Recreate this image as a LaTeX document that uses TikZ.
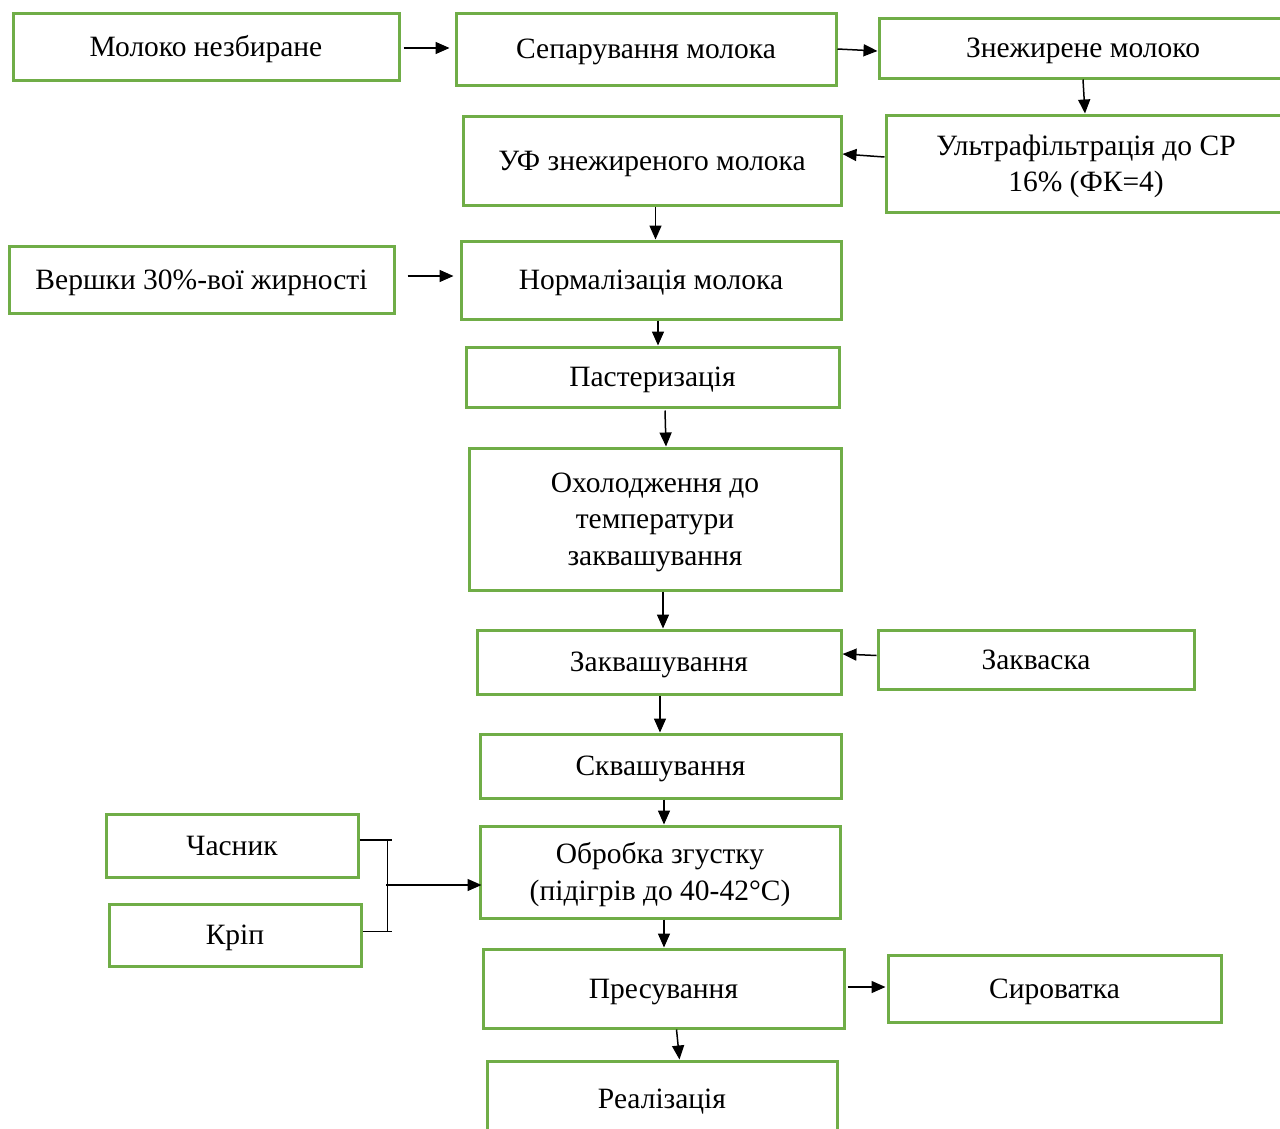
\documentclass[tikz,border=0pt]{standalone}
\usepackage{fontspec}
\setmainfont{Liberation Serif}
\usetikzlibrary{arrows.meta,calc}
\definecolor{boxgreen}{HTML}{70AD47}
\newcommand\boxstrut{\vrule width 0pt height 26pt depth 6.4pt}
\begin{document}
\begin{tikzpicture}[x=1pt,y=-1pt,
  stepbox/.style={draw=boxgreen, line width=3pt, fill=white, inner sep=0pt, align=center,
    font=\fontsize{29.5}{36.5}\selectfont,
    execute at begin node=\boxstrut, execute at end node=\boxstrut},
  arr/.style={line width=1.5pt, -{Triangle[length=14pt,width=12pt]}},
  ln/.style={line width=1.5pt}]
\useasboundingbox (0,0) rectangle (1280,1128);
\clip (0,0) rectangle (1280,1128);
\fill[white] (0,0) rectangle (1280,1128);

\node[stepbox, minimum width=386pt, minimum height=67pt] (n1) at (206,46.5) {Молоко незбиране};
\node[stepbox, minimum width=380pt, minimum height=72pt] (n2) at (646,49) {Сепарування молока};
\node[stepbox, minimum width=408pt, minimum height=60pt] (n3) at (1083,48) {Знежирене молоко};
\node[stepbox, minimum width=400pt, minimum height=97pt] (n5) at (1086,163.5) {\boxstrut Ультрафільтрація до СР\\16\% (ФК=4)\boxstrut};
\node[stepbox, minimum width=378pt, minimum height=89pt] (n4) at (652,160.5) {УФ знежиреного молока};
\node[stepbox, minimum width=385pt, minimum height=67pt] (n6) at (201.5,279.5) {Вершки 30\%-вої жирності};
\node[stepbox, minimum width=380pt, minimum height=78pt] (n7) at (651,280) {Нормалізація молока};
\node[stepbox, minimum width=373pt, minimum height=60pt] (n8) at (652.5,377) {Пастеризація};
\node[stepbox, minimum width=372pt, minimum height=142pt] (n9) at (655,519) {\boxstrut Охолодження до\\температури\\заквашування\boxstrut};
\node[stepbox, minimum width=364pt, minimum height=64pt] (n10) at (659,662) {Заквашування};
\node[stepbox, minimum width=316pt, minimum height=59pt] (n11) at (1036,659.5) {Закваска};
\node[stepbox, minimum width=361pt, minimum height=64pt] (n12) at (660.5,766) {Сквашування};
\node[stepbox, minimum width=360pt, minimum height=92pt] (n13) at (660,872) {\boxstrut Обробка згустку\\(підігрів до 40-42°C)\boxstrut};
\node[stepbox, minimum width=252pt, minimum height=63pt] (n14) at (232,845.5) {Часник};
\node[stepbox, minimum width=252pt, minimum height=62pt] (n15) at (235,935) {Кріп};
\node[stepbox, minimum width=361pt, minimum height=79pt] (n16) at (663.5,988.5) {Пресування};
\node[stepbox, minimum width=333pt, minimum height=67pt] (n17) at (1054.5,988.5) {Сироватка};
\node[stepbox, minimum width=350pt, minimum height=76pt] (n18) at (662,1099) {Реалізація};

\draw[arr] ($(n1.east)+(3,1.5)$) -- ($(n2.west)+(-5,-1)$);
\draw[arr] (n2.east) -- ($(n3.west)+(0,3)$);
\draw[arr] (n3.south) -- ($(n5.north)+(-1,0)$);
\draw[arr] ($(n5.west)+(0,-6.5)$) -- ($(n4.east)+(0,-6.5)$);
\draw[arr] ($(n4.south)+(3.5,0)$) -- ($(n7.north)+(4.5,0)$);
\draw[arr] ($(n6.east)+(12,-3.5)$) -- ($(n7.west)+(-6,-4)$);
\draw[arr] ($(n7.south)+(7,0)$) -- ($(n8.north)+(5.5,0)$);
\draw[arr] ($(n8.south)+(12.5,2)$) -- ($(n9.north)+(11,0)$);
\draw[arr] ($(n9.south)+(8,0)$) -- ($(n10.north)+(4,0)$);
\draw[arr] ($(n11.west)+(0,-4)$) -- ($(n10.east)+(0,-8)$);
\draw[arr] ($(n10.south)+(1,0)$) -- ($(n12.north)+(-0.5,0)$);
\draw[arr] ($(n12.south)+(3.5,0)$) -- ($(n13.north)+(4,0)$);
\draw[arr] ($(n13.south)+(4,0)$) -- ($(n16.north)+(0.5,0)$);
\draw[arr] ($(n16.east)+(2,-1.5)$) -- ($(n17.west)+(-1,-1.5)$);
\draw[arr] ($(n16.south)+(13,0)$) -- ($(n18.north)+(17.5,0)$);

\draw[ln] ($(n14.east)+(0,-5.5)$) -- ++(32,0);
\draw[ln] ($(n15.east)+(0,-3.5)$) -- ++(29,0);
\coordinate (jt) at (387.5,840);
\coordinate (jb) at (387.5,931.5);
\coordinate (jm) at (386,885);
\draw[ln] (jt) -- (jb);
\draw[arr] (jm) -- ($(n13.west)+(3,13)$);
\end{tikzpicture}
\end{document}
